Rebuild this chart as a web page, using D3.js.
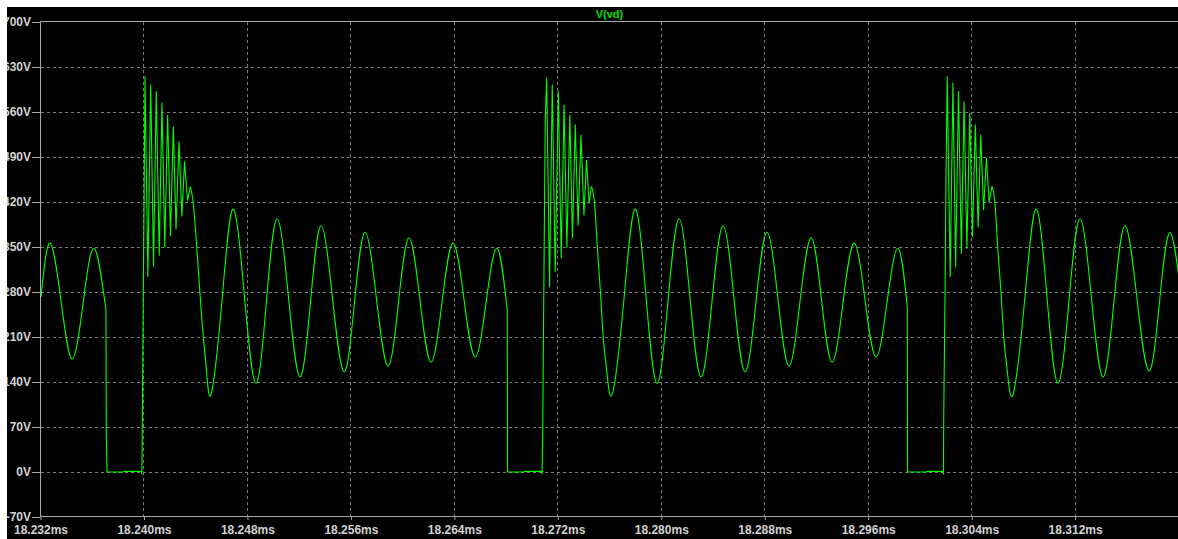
<!DOCTYPE html>
<html>
<head>
<meta charset="utf-8">
<script src="https://cdn.jsdelivr.net/npm/d3@7"></script>
<style>
  html, body { margin: 0; padding: 0; background: #fff; }
  svg { display: block; }
</style>
</head>
<body>
<svg id="chart" width="1178" height="539"></svg>
<script>
// Transient trace V(vd). Time in microseconds, voltage in volts.
const timeTicks = [18232, 18240, 18248, 18256, 18264, 18272, 18280, 18288, 18296, 18304, 18312];
const voltTicks = [-70, 0, 70, 140, 210, 280, 350, 420, 490, 560, 630, 700];
const traceName = "V(vd)";

// resonant swing before the first off interval
const wave0 = [
  [18232.04, 272], [18232.73, 356], [18233.59, 266], [18234.44, 176], [18235.29, 262],
  [18236.14, 348], [18237.06, 252]
];
// collapse to zero, off interval, turn-on and ringing burst
const step1 = [
  [18237.06, 252], [18237.09, 54], [18237.14, 0], [18238.38, 0], [18238.46, 1], [18239.81, 1],
  [18239.83, -3], [18239.85, 15], [18239.89, 115], [18239.95, 283], [18240.02, 449], [18240.08, 615],
  [18240.30, 304], [18240.52, 602], [18240.74, 320], [18240.95, 592], [18241.18, 337], [18241.39, 574],
  [18241.61, 350], [18241.83, 555], [18242.05, 368], [18242.27, 537], [18242.48, 378], [18242.71, 514],
  [18242.93, 398], [18243.14, 483], [18243.37, 422], [18243.58, 444]
];
const wave1 = [
  [18243.58, 444], [18243.81, 418], [18244.08, 350], [18244.33, 278], [18244.59, 210], [18244.85, 154],
  [18245.22, 123], [18246.03, 266], [18246.88, 409], [18247.77, 273], [18248.66, 138], [18249.47, 266],
  [18250.29, 394], [18251.18, 271], [18252.06, 148], [18252.88, 265], [18253.69, 383], [18254.58, 270],
  [18255.47, 156], [18256.28, 264], [18257.09, 373], [18257.98, 269], [18258.87, 165], [18259.68, 264],
  [18260.49, 364], [18261.34, 268], [18262.19, 171], [18263.04, 263], [18263.89, 356], [18264.75, 268],
  [18265.60, 179], [18266.45, 263], [18267.30, 348], [18268.09, 252]
];
const step2 = [
  [18268.09, 252], [18268.11, 0], [18269.38, 0], [18269.41, 1], [18270.75, 1], [18270.78, -3],
  [18270.83, 52], [18270.88, 190], [18270.95, 361], [18271.03, 548], [18271.14, 613],
  [18271.36, 288], [18271.57, 602], [18271.80, 312], [18272.04, 592], [18272.26, 333], [18272.48, 571],
  [18272.70, 350], [18272.93, 555], [18273.13, 364], [18273.35, 540], [18273.57, 384], [18273.79, 524],
  [18274.02, 400], [18274.22, 485], [18274.42, 418], [18274.60, 444]
];
const wave2 = [
  [18274.60, 444], [18274.84, 418], [18275.07, 345], [18275.30, 278], [18275.53, 205], [18275.80, 154],
  [18276.24, 123], [18277.10, 266], [18277.97, 409], [18278.82, 273], [18279.67, 138], [18280.52, 266],
  [18281.37, 394], [18282.22, 271], [18283.07, 148], [18283.92, 265], [18284.77, 383], [18285.62, 270],
  [18286.47, 156], [18287.32, 264], [18288.17, 373], [18289.02, 269], [18289.87, 165], [18290.72, 264],
  [18291.58, 364], [18292.39, 268], [18293.20, 171], [18294.05, 263], [18294.90, 356], [18295.75, 268],
  [18296.60, 179], [18297.45, 263], [18298.30, 348], [18299.02, 257]
];
const step3 = [
  [18299.02, 257], [18299.04, 0], [18300.52, 0], [18300.54, 1], [18301.80, 1], [18301.82, -3],
  [18301.84, 89], [18301.94, 278], [18302.01, 449], [18302.11, 615],
  [18302.34, 304], [18302.55, 605], [18302.76, 319], [18302.98, 592], [18303.20, 340], [18303.41, 576],
  [18303.63, 348], [18303.85, 558], [18304.06, 366], [18304.28, 540], [18304.50, 381], [18304.70, 524],
  [18304.92, 408], [18305.14, 488], [18305.35, 420], [18305.57, 444]
];
const wave3 = [
  [18305.57, 444], [18305.80, 418], [18306.03, 345], [18306.27, 278], [18306.50, 205], [18306.77, 154],
  [18307.22, 122], [18308.09, 266], [18308.97, 409], [18309.82, 273], [18310.67, 138], [18311.52, 266],
  [18312.37, 394], [18313.26, 271], [18314.15, 148], [18315.00, 265], [18315.85, 383], [18316.78, 270],
  [18317.71, 157], [18318.52, 264], [18319.33, 372], [18320.26, 264]
];

const pieces = [
  { pts: wave0, smooth: true },
  { pts: step1, smooth: false },
  { pts: wave1, smooth: true },
  { pts: step2, smooth: false },
  { pts: wave2, smooth: true },
  { pts: step3, smooth: false },
  { pts: wave3, smooth: true }
];

const W = 1178, H = 539;
const plot = { left: 40.5, top: 22, right: 1178.6, bottom: 517 };

const svg = d3.select("#chart");

svg.append("defs").append("clipPath").attr("id", "panelClip")
  .append("rect").attr("x", 7).attr("y", 7).attr("width", W - 7).attr("height", H - 7);
svg.select("defs").append("clipPath").attr("id", "plotClip")
  .append("rect").attr("x", 41).attr("y", 22).attr("width", W - 41).attr("height", 495);

svg.append("rect").attr("width", W).attr("height", H).attr("fill", "#fff");

const g = svg.append("g").attr("clip-path", "url(#panelClip)");
g.append("rect").attr("x", 7).attr("y", 7).attr("width", W - 7).attr("height", H - 7).attr("fill", "#000");

const x = d3.scaleLinear().domain([18232, 18320]).range([plot.left, plot.right]);
const y = d3.scaleLinear().domain([-70, 700]).range([plot.bottom, plot.top]);

const gridColor = "#7a7a7a";
const frameColor = "#a9a9a9";
const labelColor = "#d2d2d2";
const font = "'Liberation Sans', Arial, sans-serif";

// dashed grid
g.append("g").selectAll("line.h")
  .data(voltTicks.filter(v => v > -70 && v < 700))
  .join("line")
  .attr("x1", 41).attr("x2", W)
  .attr("y1", d => Math.round(y(d)) + 0.5).attr("y2", d => Math.round(y(d)) + 0.5)
  .attr("stroke", gridColor).attr("stroke-width", 1).attr("stroke-dasharray", "3,3");

g.append("g").selectAll("line.v")
  .data(timeTicks.filter(t => t > 18232))
  .join("line")
  .attr("x1", d => Math.floor(x(d)) + 0.5).attr("x2", d => Math.floor(x(d)) + 0.5)
  .attr("y1", 22).attr("y2", 517)
  .attr("stroke", gridColor).attr("stroke-width", 1).attr("stroke-dasharray", "3,3");

// axes
const yAxis = d3.axisLeft(y).tickValues(voltTicks).tickFormat(d => d + "V").tickSize(8).tickPadding(1);
const yg = g.append("g").attr("transform", "translate(40,0)").call(yAxis);
const xAxis = d3.axisBottom(x).tickValues(timeTicks).tickFormat(d => (d / 1000).toFixed(3) + "ms").tickSize(4).tickPadding(5);
const xg = g.append("g").attr("transform", "translate(0,516)").call(xAxis);

[yg, xg].forEach(a => {
  a.select(".domain").remove();
  a.selectAll(".tick line").attr("stroke", frameColor);
  a.selectAll(".tick text")
    .attr("fill", labelColor)
    .style("font-family", font)
    .style("font-size", "12px")
    .style("font-weight", "bold");
});

// frame
g.append("line").attr("x1", 40.5).attr("x2", 40.5).attr("y1", 21.5).attr("y2", 516.5).attr("stroke", frameColor);
g.append("line").attr("x1", 40.5).attr("x2", W).attr("y1", 21.5).attr("y2", 21.5).attr("stroke", frameColor);
g.append("line").attr("x1", 40.5).attr("x2", W).attr("y1", 516.5).attr("y2", 516.5).attr("stroke", frameColor);

// title
g.append("text")
  .attr("x", 609.5).attr("y", 18)
  .attr("text-anchor", "middle")
  .attr("fill", "#00e000")
  .style("font-family", font)
  .style("font-size", "11px")
  .style("font-weight", "bold")
  .text(traceName);

// trace
const traceG = g.append("g").attr("clip-path", "url(#plotClip)");
pieces.forEach(p => {
  const line = d3.line()
    .x(d => x(d[0]))
    .y(d => y(d[1]))
    .curve(p.smooth ? d3.curveNatural : d3.curveLinear);
  traceG.append("path")
    .attr("d", line(p.pts))
    .attr("fill", "none")
    .attr("stroke", "#00ff00")
    .attr("stroke-width", 1.1)
    .attr("stroke-linejoin", "round");
});
</script>
</body>
</html>
